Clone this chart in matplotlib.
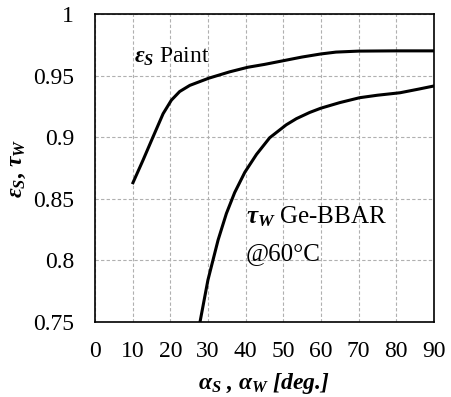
import numpy as np
import matplotlib.pyplot as plt

plt.rcParams['font.family'] = ['Liberation Serif', 'DejaVu Serif']
plt.rcParams['mathtext.fontset'] = 'custom'
plt.rcParams['mathtext.rm'] = 'Liberation Serif:bold'
plt.rcParams['mathtext.it'] = 'Liberation Serif:italic:bold'
plt.rcParams['mathtext.bf'] = 'Liberation Serif:bold'

# emissivity of the paint vs angle
paint_angle = [10.1, 12.8, 15.4, 18.1, 20.3, 22.5, 25.2, 30.2, 35.8, 40.6, 45, 50, 55, 60,
               64, 70, 80, 90]
paint_eps = [0.863, 0.8815, 0.900, 0.919, 0.930, 0.937, 0.942, 0.9478, 0.953, 0.9567,
             0.959, 0.962, 0.965, 0.9675, 0.969, 0.9698, 0.970, 0.970]

# transmittance of Ge-BBAR window @60C
win_angle = [27.9, 30.0, 32.7, 34.9, 37.1, 39.8, 42.9, 46.4, 50.8, 53.5, 57, 60, 65, 70.3,
             75, 81, 86, 90]
win_tau = [0.750, 0.784, 0.8165, 0.838, 0.855, 0.8715, 0.886, 0.8995, 0.910, 0.915, 0.920,
           0.9235, 0.928, 0.932, 0.934, 0.936, 0.939, 0.9415]

xticks = [0, 10, 20, 30, 40, 50, 60, 70, 80, 90]
yticks = [0.75, 0.8, 0.85, 0.9, 0.95, 1.0]
ytick_labels = ['0.75', '0.8', '0.85', '0.9', '0.95', '1']

fig = plt.figure(figsize=(4.52, 3.97), dpi=100)
ax = fig.add_axes([0.210, 0.189, 0.750, 0.776])

ax.plot(paint_angle, paint_eps, color='black', lw=2.2, solid_joinstyle='round')
ax.plot(win_angle, win_tau, color='black', lw=2.2, solid_joinstyle='round')

ax.set_xlim(0, 90)
ax.set_ylim(0.75, 1.0)
ax.set_xticks(xticks)
ax.set_yticks(yticks)
ax.set_yticklabels(ytick_labels)
ax.tick_params(length=0, labelsize=17)
ax.tick_params(axis='x', pad=14)
ax.tick_params(axis='y', pad=15)
ax.grid(True, color='#b0b0b0', ls=(0, (3, 2)), lw=0.8)
for s in ax.spines.values():
    s.set_linewidth(1.2)

ax.text(10.5, 0.965, r'$\varepsilon_S$ Paint', fontsize=17, va='center')
ax.text(40, 0.8355, r'$\tau_W$ Ge-BBAR', fontsize=18, va='center')
ax.text(40, 0.805, '@60°C', fontsize=18, va='center')

ax.set_ylabel(r'$\varepsilon_S$, $\tau_W$', fontsize=17, fontweight='bold', labelpad=4)
ax.set_xlabel(r'$\alpha_S$ , $\alpha_W$ [deg.]', fontsize=17, fontweight='bold',
              style='italic', labelpad=6)

fig.savefig('out.png', dpi=100)
